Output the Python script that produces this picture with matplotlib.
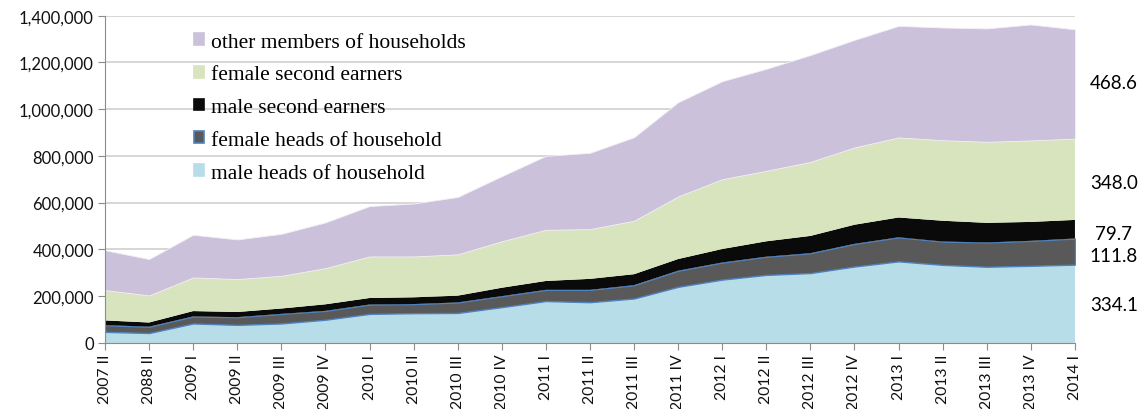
"""Stacked area: employed persons by household role, 2007-2014."""
import numpy as np
import matplotlib
matplotlib.use("Agg")
import matplotlib.pyplot as plt
from matplotlib.patches import Patch
from matplotlib.ticker import FuncFormatter

quarters = ["2007 II", "2088 II", "2009 I", "2009 II", "2009 III", "2009 IV",
            "2010 I", "2010 II", "2010 III", "2010 IV", "2011 I", "2011 II",
            "2011 III", "2011 IV", "2012 I", "2012 II", "2012 III", "2012 IV",
            "2013 I", "2013 II", "2013 III", "2013 IV", "2014 I"]

# thousands of persons
male_heads = [46, 41, 82, 76, 82, 98, 123, 126, 127, 152, 178, 173, 189, 239,
              270, 290, 298, 326, 348, 333, 325, 329, 334.1]
female_heads = [29, 27, 30, 33, 41, 38, 40, 39, 45, 47, 48, 53, 57, 69,
                73, 78, 85, 97, 103, 100, 104, 107, 111.8]
male_second = [20, 18, 23, 22, 23, 28, 28, 29, 29, 36, 38, 47, 47, 50,
               58, 66, 74, 82, 85, 89, 84, 81, 79.7]
female_second = [130, 116, 144, 141, 140, 155, 178, 175, 177, 199, 219, 213, 229, 268,
                 299, 302, 317, 331, 343, 345, 347, 349, 348.0]
other_members = [171, 156, 183, 170, 180, 196, 216, 227, 246, 279, 317, 327, 358, 404,
                 420, 437, 458, 461, 478, 483, 486, 497, 468.6]

names = ["male heads of household", "female heads of household",
         "male second earners", "female second earners", "other members of households"]
colors = ["#B7DDE8", "#595959", "#0A0A0A", "#D7E4BD", "#CCC1DA"]

series = [male_heads, female_heads, male_second, female_second, other_members]
vals = np.array(series, dtype=float) * 1000
x = np.arange(len(quarters))

fig = plt.figure(figsize=(11.46, 4.10), dpi=100)
ax = fig.add_axes([0.0916, 0.162, 0.8464, 0.797])

polys = ax.stackplot(x, *vals, colors=colors)
for p in polys:
    p.set_edgecolor("none")
polys[1].set_edgecolor("#4F81BD")
polys[1].set_linewidth(1.0)
polys[4].set_edgecolor("#F4F0F8")
polys[4].set_linewidth(0.6)

ax.set_xlim(0, len(quarters) - 1)
ax.set_ylim(0, 1400000)
ax.set_yticks(np.arange(0, 1400001, 200000))
ax.yaxis.set_major_formatter(FuncFormatter(lambda v, _: f"{v:,.0f}"))
ax.set_xticks(x)
ax.set_xticklabels(quarters, rotation=90, fontsize=11.3, family="Lato")
for lab in ax.get_yticklabels():
    lab.set_family("Lato")
    lab.set_fontsize(12)

ax.set_axisbelow(True)
ax.grid(axis="y", color="#D0D0D0", linewidth=1.2)
for s in ["top", "right"]:
    ax.spines[s].set_visible(False)
for s in ["left", "bottom"]:
    ax.spines[s].set_color("#8C8C8C")
ax.tick_params(direction="out", length=5, color="#8C8C8C", labelcolor="#111111", pad=3)

# values at the last quarter, right of the plot
last = vals[:, -1]
mids = np.cumsum(last) - last / 2
nudge = [-6000, -19000, -17000, -12000, 6000]
for v, m, d in zip(last, mids, nudge):
    ax.text(len(quarters) - 1 + 0.88, m + d, f"{v/1000:.1f}", ha="center", va="center",
            fontsize=13.5, family="Lato", clip_on=False)

handles = [Patch(facecolor=c, edgecolor=("#4F81BD" if i == 1 else c), linewidth=1.2)
           for i, c in enumerate(colors)]
leg = ax.legend(handles[::-1], names[::-1], loc="upper left", bbox_to_anchor=(0.083, 0.975),
                frameon=False, prop={"family": "Liberation Serif", "size": 15.5},
                handlelength=0.47, handleheight=0.47, handletextpad=0.3, labelspacing=0.64,
                borderaxespad=0)

fig.savefig("out.png", dpi=100)
